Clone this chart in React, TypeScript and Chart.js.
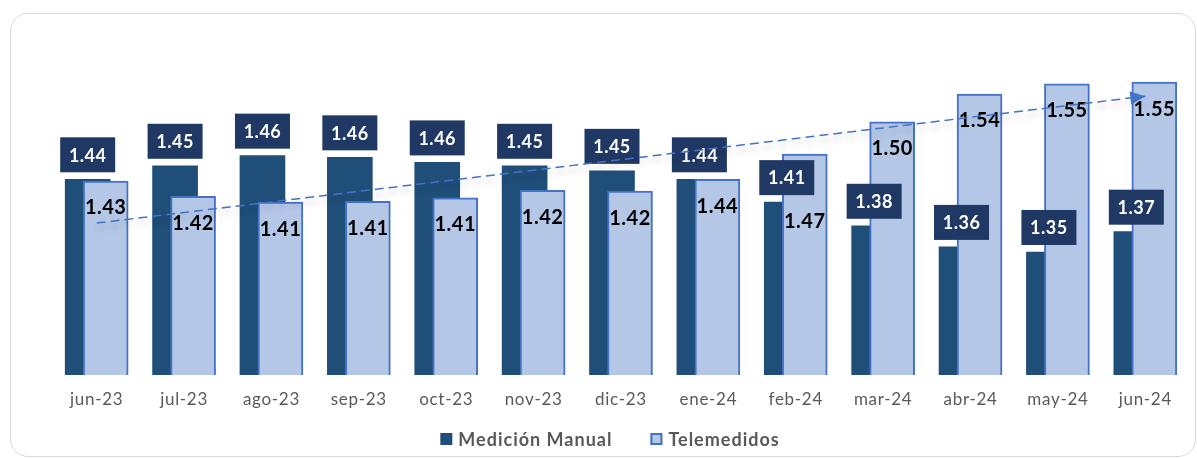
import React, { useEffect, useRef } from 'react';
import { Chart, registerables } from 'chart.js';

Chart.register(...registerables);

const categories = ['jun-23', 'jul-23', 'ago-23', 'sep-23', 'oct-23', 'nov-23', 'dic-23', 'ene-24', 'feb-24', 'mar-24', 'abr-24', 'may-24', 'jun-24'];
const medicionManual = [1.436, 1.452, 1.464, 1.462, 1.456, 1.452, 1.446, 1.436, 1.409, 1.381, 1.356, 1.35, 1.374];
const telemedidos = [1.434, 1.416, 1.409, 1.41, 1.414, 1.423, 1.422, 1.436, 1.466, 1.504, 1.537, 1.549, 1.551];
const seriesNames = ['Medición Manual', 'Telemedidos'];

const COLORS = {
  manual: '#1F4E79',
  teleFill: '#B4C7E7',
  teleBorder: '#4472C4',
  box: '#1F3864',
  axisText: '#595959',
  trend: '#4472C4',
};

// Linear trendline (least squares) of the Telemedidos series, as Excel draws it.
function linearTrend(values: number[]): number[] {
  const n = values.length;
  const mx = (n - 1) / 2;
  const my = values.reduce((a, b) => a + b, 0) / n;
  let sxy = 0;
  let sxx = 0;
  values.forEach((v, i) => {
    sxy += (i - mx) * (v - my);
    sxx += (i - mx) * (i - mx);
  });
  const slope = sxy / sxx;
  return values.map((_, i) => my + slope * (i - mx));
}

const FONT = 'Lato, "Open Sans", sans-serif';

const overlapPlugin = {
  id: 'overlapBars',
  afterDatasetsUpdate(chart: any) {
    const xs = chart.scales.x;
    const cat = (xs.right - xs.left) / categories.length;
    const shift = cat * 0.103;
    chart.getDatasetMeta(0).data.forEach((el: any) => { el.x -= shift; });
    chart.getDatasetMeta(1).data.forEach((el: any) => { el.x += shift; });
  },
};

const labelsPlugin = {
  id: 'barLabels',
  beforeDraw(chart: any) {
    (chart.ctx as any).letterSpacing = '0.7px';
  },
  beforeDatasetsDraw(chart: any) {
    (chart.ctx as any).letterSpacing = '0px';
  },
  beforeDatasetDraw(chart: any, args: any) {
    if (args.index === 2) {
      const ctx = chart.ctx;
      ctx.save();
      ctx.shadowColor = 'rgba(0,0,0,0.28)';
      ctx.shadowBlur = 7;
      ctx.shadowOffsetY = 5;
    }
  },
  afterDatasetDraw(chart: any, args: any) {
    const ctx = chart.ctx;
    if (args.index === 2) {
      ctx.restore();
      const pts = chart.getDatasetMeta(2).data;
      const a = pts[pts.length - 2];
      const b = pts[pts.length - 1];
      const ang = Math.atan2(b.y - a.y, b.x - a.x);
      const len = 15;
      const hw = 6.5;
      ctx.save();
      ctx.fillStyle = COLORS.trend;
      ctx.beginPath();
      ctx.moveTo(b.x, b.y);
      ctx.lineTo(b.x - len * Math.cos(ang) + hw * Math.sin(ang), b.y - len * Math.sin(ang) - hw * Math.cos(ang));
      ctx.lineTo(b.x - len * Math.cos(ang) - hw * Math.sin(ang), b.y - len * Math.sin(ang) + hw * Math.cos(ang));
      ctx.closePath();
      ctx.fill();
      ctx.restore();
      return;
    }
    if (args.index !== 1) return;
    const m0 = chart.getDatasetMeta(0).data;
    const m1 = chart.getDatasetMeta(1).data;
    ctx.save();
    ctx.textAlign = 'center';
    ctx.textBaseline = 'middle';
    const boxes = m0.map((el: any, i: number) => {
      const w = 55;
      const h = 35;
      const bottom = el.y - 7;
      const top = bottom - h;
      ctx.fillStyle = COLORS.box;
      ctx.fillRect(el.x - w / 2, top, w, h);
      ctx.fillStyle = '#FFFFFF';
      ctx.font = `bold 18px ${FONT}`;
      (ctx as any).letterSpacing = '0.5px';
      ctx.fillText(medicionManual[i].toFixed(2), el.x, top + h / 2 + 1);
      return { top, bottom };
    });
    m1.forEach((el: any, i: number) => {
      let cy = el.y + 27;
      const bx = boxes[i];
      if (cy + 9 > bx.top && cy - 9 < bx.bottom) cy = bx.bottom + 26;
      ctx.fillStyle = '#000000';
      ctx.font = `bold 20px ${FONT}`;
      (ctx as any).letterSpacing = '0.5px';
      ctx.fillText(telemedidos[i].toFixed(2), el.x, cy);
    });
    (ctx as any).letterSpacing = '0px';
    ctx.restore();
  },
  afterDraw(chart: any) {
    const ctx = chart.ctx;
    ctx.save();
    ctx.font = `bold 18px ${FONT}`;
    (ctx as any).letterSpacing = '1px';
    ctx.textBaseline = 'middle';
    ctx.textAlign = 'left';
    const w1 = ctx.measureText(seriesNames[0]).width;
    const w2 = ctx.measureText(seriesNames[1]).width;
    const sq = 12;
    const gapT = 6;
    const gapItems = 38;
    const total = sq + gapT + w1 + gapItems + sq + gapT + w2;
    let x = 610 - total / 2;
    const cy = 439;
    ctx.fillStyle = COLORS.manual;
    ctx.fillRect(x, cy - sq / 2, sq, sq);
    x += sq + gapT;
    ctx.fillStyle = COLORS.axisText;
    ctx.fillText(seriesNames[0], x, cy + 1);
    x += w1 + gapItems;
    ctx.fillStyle = COLORS.teleFill;
    ctx.fillRect(x, cy - sq / 2, sq, sq);
    ctx.strokeStyle = COLORS.teleBorder;
    ctx.lineWidth = 2;
    ctx.strokeRect(x + 1, cy - sq / 2 + 1, sq - 2, sq - 2);
    x += sq + gapT;
    ctx.fillStyle = COLORS.axisText;
    ctx.fillText(seriesNames[1], x, cy + 1);
    (ctx as any).letterSpacing = '0px';
    ctx.restore();
  },
};

export default function App() {
  const canvasRef = useRef<HTMLCanvasElement | null>(null);

  useEffect(() => {
    const canvas = canvasRef.current;
    if (!canvas) return;
    const chart = new Chart(canvas, {
      type: 'bar',
      data: {
        labels: categories,
        datasets: [
          {
            type: 'bar',
            label: seriesNames[0],
            data: medicionManual,
            backgroundColor: COLORS.manual,
            borderWidth: 0,
            barThickness: 45,
            grouped: false,
            order: 2,
          } as any,
          {
            type: 'bar',
            label: seriesNames[1],
            data: telemedidos,
            backgroundColor: COLORS.teleFill,
            borderColor: COLORS.teleBorder,
            borderWidth: 2,
            borderSkipped: false,
            barThickness: 45,
            grouped: false,
            order: 1,
          } as any,
          {
            type: 'line',
            label: 'Tendencia',
            data: linearTrend(telemedidos),
            borderColor: COLORS.trend,
            borderWidth: 1.5,
            borderDash: [9, 5],
            pointRadius: 0,
            fill: false,
            tension: 0,
            order: 0,
          } as any,
        ],
      },
      options: {
        animation: false,
        responsive: false,
        devicePixelRatio: 1,
        layout: { padding: { left: 53, right: 8, top: 30, bottom: 0 } },
        plugins: {
          legend: { display: false },
          tooltip: { enabled: false },
        },
        scales: {
          x: {
            grid: { display: false, drawTicks: false },
            border: { display: false },
            ticks: { color: COLORS.axisText, font: { family: FONT, size: 17 }, padding: 14 },
            afterFit(scale: any) { scale.height = 84; },
          },
          y: {
            display: false,
            min: 1.2044,
            max: 1.6127,
          },
        },
      },
      plugins: [overlapPlugin, labelsPlugin],
    });
    return () => chart.destroy();
  }, []);

  return (
    <div style={{ position: 'fixed', left: 0, top: 0, width: 1197, height: 459, background: '#FFFFFF' }}>
      <div
        style={{
          position: 'absolute',
          left: 10,
          top: 13,
          width: 1186,
          height: 444,
          border: '1.5px solid #D9D9D9',
          borderRadius: 18,
          boxSizing: 'border-box',
        }}
      />
      <canvas ref={canvasRef} width={1197} height={459} style={{ position: 'absolute', left: 0, top: 0, width: 1197, height: 459 }} />
    </div>
  );
}
